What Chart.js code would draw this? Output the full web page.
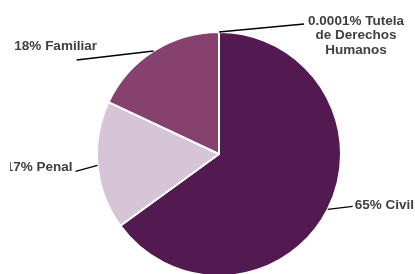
<!DOCTYPE html>
<html>
<head>
<meta charset="utf-8">
<script src="https://cdn.jsdelivr.net/npm/chart.js@4/dist/chart.umd.min.js"></script>
<style>
html,body{margin:0;padding:0;background:#fff;overflow:hidden;}
#wrap{width:415px;height:274px;position:relative;}
</style>
</head>
<body>
<div id="wrap"><canvas id="c"></canvas></div>
<script>
const categories = ["Civil", "Penal", "Familiar", "Tutela de Derechos Humanos"];
const values = [65, 17, 18, 0.0001];
const labelTexts = [["65% Civil"], ["17% Penal"], ["18% Familiar"], ["0.0001% Tutela", "de Derechos", "Humanos"]];
const colors = ["#521A50", "#D6C5D6", "#87416F", "#3B0F39"];

// label placement (style): line end offset from arc edge, text offset from line end, alignment
const labelStyle = [
  {lx: 25, ly: -3, tx: 2, ty: -1, align: "left"},
  {lx: -22, ly: 6, tx: -3, ty: -4, align: "right"},
  {lx: -77, ly: 9, tx: -21, ty: -14, align: "center"},
  {lx: 85, ly: -8, tx: 52, ty: -2.5, align: "center"}
];

const leaderPlugin = {
  id: "leaders",
  afterDatasetsDraw(chart) {
    const ctx = chart.ctx;
    const meta = chart.getDatasetMeta(0);
    ctx.save();
    meta.data.forEach((arc, i) => {
      const p = arc.getProps(["x", "y", "startAngle", "endAngle", "outerRadius"], true);
      const mid = (p.startAngle + p.endAngle) / 2;
      const ex = p.x + Math.cos(mid) * p.outerRadius;
      const ey = p.y + Math.sin(mid) * p.outerRadius;
      const s = labelStyle[i];
      const lx = ex + s.lx, ly = ey + s.ly;
      ctx.strokeStyle = "#000";
      ctx.lineWidth = 1.3;
      ctx.beginPath();
      ctx.moveTo(ex, ey);
      ctx.lineTo(lx, ly);
      ctx.stroke();
      ctx.save();
      ctx.beginPath();
      ctx.rect(10, 0, chart.width - 10, chart.height);
      ctx.clip();
      ctx.fillStyle = "#404040";
      ctx.font = "bold 13.5px 'Liberation Sans', Arial, sans-serif";
      ctx.textAlign = s.align;
      ctx.textBaseline = "middle";
      labelTexts[i].forEach((t, k) => {
        ctx.fillText(t, lx + s.tx, ly + s.ty + k * 14.2);
      });
      ctx.restore();
    });
    ctx.restore();
  }
};

new Chart(document.getElementById("c"), {
  type: "pie",
  data: {
    labels: categories,
    datasets: [{
      data: values,
      backgroundColor: colors,
      borderColor: "#FFFFFF",
      borderWidth: 2
    }]
  },
  options: {
    responsive: true,
    maintainAspectRatio: false,
    animation: false,
    radius: 122,
    layout: {padding: {top: 34, bottom: 0, left: 23, right: 0}},
    plugins: {legend: {display: false}, tooltip: {enabled: false}}
  },
  plugins: [leaderPlugin]
});
</script>
</body>
</html>
